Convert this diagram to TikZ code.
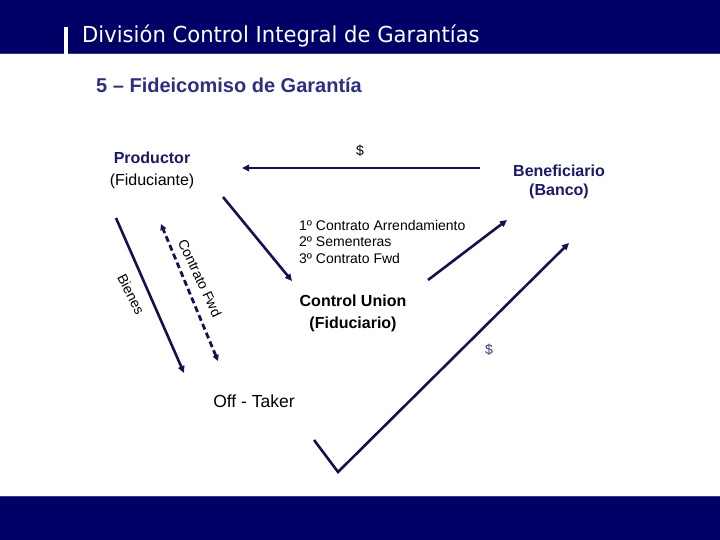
\documentclass[tikz,border=0pt]{standalone}
\usepackage{fontspec}
\setmainfont{Liberation Sans}
\newfontfamily\titlefont{DejaVu Sans}
\usetikzlibrary{arrows.meta}
\definecolor{hdr}{HTML}{000066}
\definecolor{hdrline}{HTML}{3A3A8A}
\definecolor{subt}{HTML}{2E2E80}
\definecolor{ent}{HTML}{1A1A66}
\definecolor{arr}{HTML}{12124F}
\definecolor{dol}{HTML}{3A3A7A}
\tikzset{
  conn/.style={draw=arr, line width=2.6pt, -{Triangle[length=7pt,width=6.5pt]}},
  dconn/.style={draw=arr, line width=2.8pt, dash pattern=on 6pt off 3.5pt, {Triangle[length=6pt,width=6pt]}-{Triangle[length=6pt,width=6pt]}},
  lbl/.style={inner sep=0pt, font=\fontsize{14}{16.5}\selectfont},
  ent/.style={inner sep=0pt, align=center, font=\fontsize{16}{22}\selectfont},
}
\begin{document}
\begin{tikzpicture}[x=1pt, y=-1pt]
\useasboundingbox (0,0) rectangle (720,540);
% header band
\fill[hdr] (0,0) rectangle (720,54);
\draw[hdrline, line width=0.8pt] (0,53.6) -- (720,53.6);
\fill[white] (64,27) rectangle (67.5,54);
\node[anchor=base west, inner sep=0pt, text=white, font=\titlefont\fontsize{22}{26}\selectfont] (title) at (82,43)
  {\scalebox{0.96}[1]{División Control Integral de Garantías}};
% subtitle
\node[anchor=base west, inner sep=0pt, text=subt, font=\bfseries\fontsize{20}{24}\selectfont] (sub) at (96,93)
  {5 – Fideicomiso de Garantía};
% bottom band
\fill[hdr] (0,496) rectangle (720,540);
\draw[hdrline, line width=0.8pt] (0,496.4) -- (720,496.4);

% entities
\node[ent] (prod) at (152,170) {{\bfseries\color{ent}Productor}\\(Fiduciante)};
\node[ent] (benef) at (559,181.5) {\bfseries\color{ent}Beneficiario\\[-3pt]\bfseries\color{ent}(Banco)};
\node[ent, font=\bfseries\fontsize{16}{22}\selectfont] (cu) at (353,313) {Control Union\\(Fiduciario)};
\node[inner sep=0pt, font=\fontsize{17.5}{20}\selectfont] (off) at (254,401) {Off - Taker};

% labels
\node[lbl] (d1) at (360,151) {\$};
\node[lbl, text=dol] (d2) at (489,350) {\$};
\node[lbl, anchor=north west, align=left] (steps) at (299,220)
  {1º Contrato Arrendamiento\\2º Sementeras\\3º Contrato Fwd};
\node[lbl, rotate=-63] (bienes) at (131,294) {Bienes};
\node[lbl, rotate=-65] (fwd) at (200,278) {Contrato Fwd};

% connector end points
\coordinate (a1) at (480,168);
\coordinate (a2) at (242,168);
\coordinate (b1) at (223,197);
\coordinate (b2) at (292,281);
\coordinate (c1) at (428,280);
\coordinate (c2) at (507,220);
\coordinate (v1) at (314,440);
\coordinate (v2) at (338,472);
\coordinate (v3) at (569,243);
\coordinate (s1) at (116,218);
\coordinate (s2) at (184,373);
\coordinate (f1) at (218,361);
\coordinate (f2) at (161,224);

\draw[conn] (a1) -- (a2);
\draw[conn] (b1) -- (b2);
\draw[conn] (c1) -- (c2);
\draw[conn] (v1) -- (v2) -- (v3);
\draw[conn] (s1) -- (s2);
\draw[dconn] (f1) -- (f2);
\end{tikzpicture}
\end{document}
